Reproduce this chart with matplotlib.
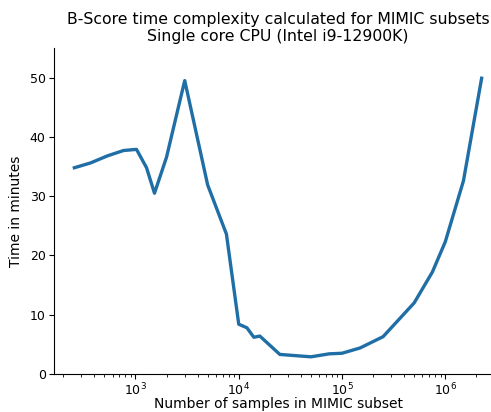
import matplotlib
matplotlib.use("Agg")
import matplotlib.pyplot as plt

# subset sizes (number of samples) and B-Score runtime in minutes
n_samples = [256, 366, 535, 764, 1023, 1280, 1528, 2000, 2570, 3000,
             5000, 7600, 10000, 12000, 14000, 16000, 25000, 50000, 75000,
             100000, 150000, 250000, 500000, 750000, 1000000, 1500000, 2250000]
minutes = [34.8, 35.6, 36.8, 37.7, 37.9, 34.8, 30.5, 36.6, 44.6, 49.5,
           31.9, 23.6, 8.4, 7.8, 6.2, 6.4, 3.3, 2.9, 3.4,
           3.5, 4.4, 6.3, 12.0, 17.2, 22.3, 32.6, 49.9]

fig = plt.figure(figsize=(4.91, 4.12), dpi=100)
ax = fig.add_axes([54 / 491, 38 / 412, 448 / 491, 326 / 412])

ax.plot(n_samples, minutes, color='#1f6fa6', linewidth=2.4)
ax.set_xscale('log')
ax.set_ylim(0, 55)
ax.set_yticks([0, 10, 20, 30, 40, 50])
ax.tick_params(labelsize=9, pad=2.5)
ax.tick_params(axis='x', pad=2)

ax.spines['top'].set_visible(False)
ax.spines['right'].set_visible(False)

ax.set_title('B-Score time complexity calculated for MIMIC subsets\nSingle core CPU (Intel i9-12900K)',
             fontsize=11.3, pad=5)
ax.set_xlabel('Number of samples in MIMIC subset', fontsize=10, labelpad=-1)
ax.set_ylabel('Time in minutes', fontsize=10, labelpad=5)

fig.savefig('out.png', dpi=100)
